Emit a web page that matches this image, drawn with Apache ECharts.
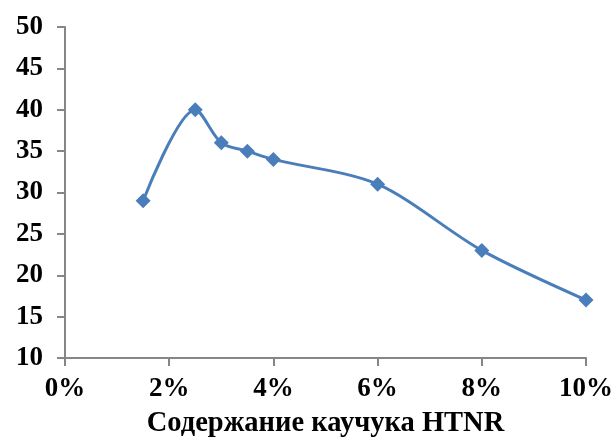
<!DOCTYPE html>
<html><head><meta charset="utf-8">
<script src="https://cdn.jsdelivr.net/npm/echarts@6/dist/echarts.min.js"></script>
<style>html,body{margin:0;padding:0;background:#fff}#c{width:614px;height:437px}</style>
</head><body><div id="c"></div>
<script>
var xValues = [1.5, 2.5, 3, 3.5, 4, 6, 8, 10];
var yValues = [29, 40, 36, 35, 34, 31, 23, 17];
var xTitle = 'Содержание каучука HTNR';

var data = xValues.map(function (x, i) { return [x, yValues[i]]; });
var font = '"Liberation Serif", "Times New Roman", serif';
var chart = echarts.init(document.getElementById('c'), null, {renderer: 'canvas'});
chart.setOption({
  animation: false,
  grid: {left: 65, right: 28, top: 27, bottom: 79, containLabel: false, outerBoundsMode: 'none'},
  xAxis: {
    type: 'value', min: 0, max: 10, interval: 2,
    name: xTitle, nameLocation: 'middle', nameGap: 51,
    nameTextStyle: {fontFamily: font, fontWeight: 'bold', fontSize: 28.5, color: '#000'},
    axisLine: {show: true, lineStyle: {color: '#868686', width: 2}},
    axisTick: {show: true, length: 8, lineStyle: {color: '#868686', width: 2}},
    axisLabel: {fontFamily: font, fontWeight: 'bold', fontSize: 27, color: '#000', margin: 18,
      formatter: function (v) { return v + '%'; }},
    splitLine: {show: false}
  },
  yAxis: {
    type: 'value', min: 10, max: 50, interval: 5,
    axisLine: {show: true, lineStyle: {color: '#868686', width: 2}},
    axisTick: {show: true, length: 8, lineStyle: {color: '#868686', width: 2}},
    axisLabel: {fontFamily: font, fontWeight: 'bold', fontSize: 27, color: '#000', margin: 22},
    splitLine: {show: false}
  },
  series: [{
    type: 'line', data: data, smooth: 0.3,
    symbol: 'diamond', symbolSize: 15,
    lineStyle: {color: '#4a7ebb', width: 3},
    itemStyle: {color: '#4a7ebb'}
  }]
});
</script></body></html>
